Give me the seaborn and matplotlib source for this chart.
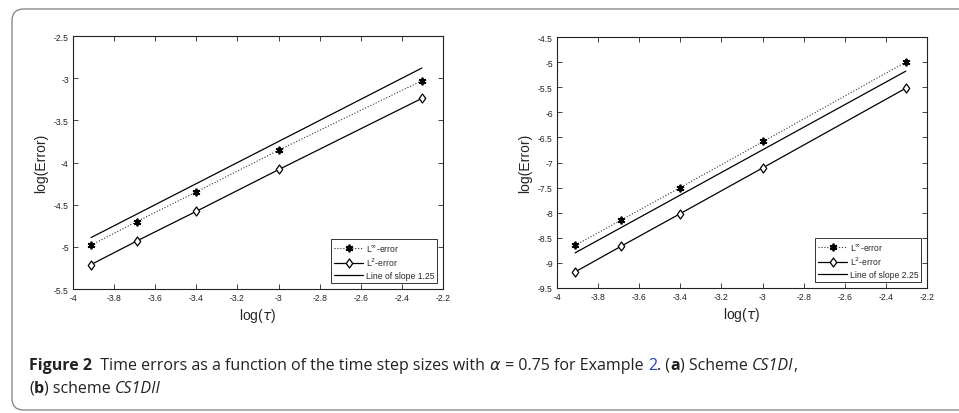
import numpy as np
import pandas as pd
import seaborn as sns
import matplotlib
matplotlib.use('Agg')
import matplotlib.pyplot as plt
from matplotlib.patches import FancyBboxPatch
from matplotlib.path import Path

# log(tau) for tau = 1/50, 1/40, 1/30, 1/20, 1/10
log_tau = [-3.912, -3.689, -3.401, -2.996, -2.303]

# panel (a): scheme CS1DI
err_inf_a = [-4.98, -4.70, -4.35, -3.85, -3.03]
err_l2_a = [-5.21, -4.93, -4.58, -4.08, -3.24]
slope_x_a = [-3.912, -2.303]
slope_y_a = [-4.89, -2.88]

# panel (b): scheme CS1DII
err_inf_b = [-8.65, -8.15, -7.50, -6.58, -5.00]
err_l2_b = [-9.18, -8.67, -8.02, -7.10, -5.52]
slope_x_b = [-3.912, -2.303]
slope_y_b = [-8.80, -5.18]

x_ticks = [-4, -3.8, -3.6, -3.4, -3.2, -3, -2.8, -2.6, -2.4, -2.2]
y_ticks_a = [-5.5, -5, -4.5, -4, -3.5, -3, -2.5]
y_ticks_b = [-9.5, -9, -8.5, -8, -7.5, -7, -6.5, -6, -5.5, -5, -4.5]

sns.set_style('ticks')
plt.rcParams['font.family'] = ['Liberation Sans', 'DejaVu Sans']
plt.rcParams['xtick.direction'] = 'in'
plt.rcParams['ytick.direction'] = 'in'
plt.rcParams['xtick.top'] = True
plt.rcParams['ytick.right'] = True
plt.rcParams['axes.linewidth'] = 0.8
plt.rcParams['mathtext.fontset'] = 'dejavusans'

W, H = 959, 414
fig = plt.figure(figsize=(W / 100, H / 100), dpi=100)

# matlab-like diamond (a bit taller than wide)
diamond = Path([(0, 1), (0.72, 0), (0, -1), (-0.72, 0), (0, 1)],
               [Path.MOVETO, Path.LINETO, Path.LINETO, Path.LINETO, Path.CLOSEPOLY])

def fmt(v):
    return '%g' % v

def draw_panel(ax, ei, e2, sx, sy, yticks, slope_txt):
    d1 = pd.DataFrame({'x': log_tau, 'y': ei})
    d2 = pd.DataFrame({'x': log_tau, 'y': e2})
    d3 = pd.DataFrame({'x': sx, 'y': sy})
    sns.lineplot(data=d1, x='x', y='y', ax=ax, color='#333333', lw=0.8,
                 linestyle=':', marker=(6, 2, 0), markersize=5.5,
                 markeredgecolor='black', markeredgewidth=1.3,
                 label=r'L$^{\infty}$-error')
    sns.lineplot(data=d2, x='x', y='y', ax=ax, color='black', lw=0.9,
                 marker=diamond, markersize=6.5, markerfacecolor='white',
                 markeredgecolor='black', markeredgewidth=0.9,
                 label=r'L$^{2}$-error')
    sns.lineplot(data=d3, x='x', y='y', ax=ax, color='black', lw=0.9,
                 label=slope_txt)
    ax.set_xlim(-4, -2.2)
    ax.set_ylim(yticks[0], yticks[-1])
    ax.set_xticks(x_ticks)
    ax.set_xticklabels([fmt(v) for v in x_ticks])
    ax.set_yticks(yticks)
    ax.set_yticklabels([fmt(v) for v in yticks])
    ax.tick_params(labelsize=6.2, length=3.5, width=0.6, pad=3, colors='#222222')
    ax.set_xlabel(r'log($\tau$)', fontsize=10, labelpad=3)
    ax.set_ylabel('log(Error)', fontsize=10, labelpad=4)
    for sp in ax.spines.values():
        sp.set_color('#222222')
    leg = ax.legend(loc='lower right', fontsize=6.2, frameon=True, fancybox=False,
                    edgecolor='black', handlelength=3.4, borderaxespad=0.7,
                    labelspacing=0.35, handletextpad=0.3, borderpad=0.3)
    leg.get_frame().set_linewidth(0.7)

ax1 = fig.add_axes([73 / W, 1 - 290 / H, 370 / W, 253 / H])
ax2 = fig.add_axes([557 / W, 1 - 289 / H, 370 / W, 251 / H])
draw_panel(ax1, err_inf_a, err_l2_a, slope_x_a, slope_y_a, y_ticks_a, 'Line of slope 1.25')
draw_panel(ax2, err_inf_b, err_l2_b, slope_x_b, slope_y_b, y_ticks_b, 'Line of slope 2.25')

# rounded frame around figure, right side runs off the picture
frame = FancyBboxPatch((12 / W, 1 - 411 / H), 1100 / W, 401 / H,
                       boxstyle='round,pad=0,rounding_size=0.012',
                       transform=fig.transFigure, fill=False,
                       edgecolor='#8a8a8a', lw=1.0, mutation_aspect=W / H)
fig.patches.append(frame)

# caption, built piece by piece
cap_font = ['Open Sans', 'DejaVu Sans']
cap_size = 11.5
renderer = fig.canvas.get_renderer()

def write_line(pieces, x0, y0):
    x = x0
    for txt, kw in pieces:
        t = fig.text(x / W, 1 - y0 / H, txt, fontsize=cap_size, family=cap_font,
                     va='center', ha='left', color=kw.get('color', '#222222'),
                     weight=kw.get('weight', 'normal'), style=kw.get('style', 'normal'))
        bb = t.get_window_extent(renderer=renderer)
        x += bb.width

line1 = [
    ('Figure 2', {'weight': 'bold'}),
    ('  Time errors as a function of the time step sizes with ', {}),
    (r'$\alpha$', {}),
    (' = 0.75 for Example ', {}),
    ('2', {'color': '#2a3dbf'}),
    ('. (', {}),
    ('a', {'weight': 'bold'}),
    (') Scheme ', {}),
    ('CS1DI', {'style': 'italic'}),
    (',', {}),
]
line2 = [
    ('(', {}),
    ('b', {'weight': 'bold'}),
    (') scheme ', {}),
    ('CS1DII', {'style': 'italic'}),
]
write_line(line1, 29, 366)
write_line(line2, 29, 389)

fig.savefig('out.png', dpi=100)
